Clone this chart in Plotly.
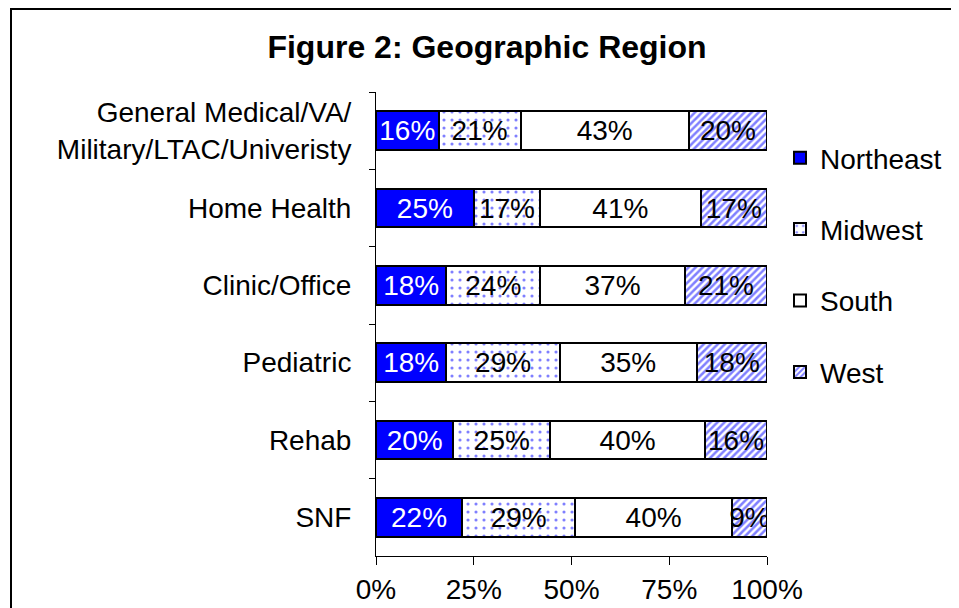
import plotly.graph_objects as go

categories = ['General Medical/VA/<br>Military/LTAC/Univeristy', 'Home Health', 'Clinic/Office',
              'Pediatric', 'Rehab', 'SNF']
northeast = [16, 25, 18, 18, 20, 22]
midwest = [21, 17, 24, 29, 25, 29]
south = [43, 41, 37, 35, 40, 40]
west = [20, 17, 21, 18, 16, 9]

FONT = 'Liberation Sans, Arial, sans-serif'

# page body has an 8px margin, so figure px = screenshot px - 8
L, T, PW, PH = 368, 84, 391, 464

series = [
    ('Northeast', northeast, dict(color='#0000ff'), 'white'),
    ('Midwest', midwest, dict(color='white', pattern=dict(shape='.', fgcolor='#0000ff', bgcolor='white',
                                                          size=8, solidity=0.12)), 'black'),
    ('South', south, dict(color='white'), 'black'),
    ('West', west, dict(color='white', pattern=dict(shape='/', fgcolor='#0000ff', bgcolor='white',
                                                    size=5, solidity=0.5)), 'black'),
]

fig = go.Figure()
for name, vals, marker, txtcol in series:
    marker = dict(marker, line=dict(color='black', width=2))
    fig.add_trace(go.Bar(
        y=categories, x=vals, name=name, orientation='h',
        marker=marker, legendgroup=name,
        text=[f'{v}%' for v in vals], textposition='inside', insidetextanchor='middle',
        constraintext='none', textangle=0,
        textfont=dict(family=FONT, size=28, color=txtcol),
        hoverinfo='name+x',
    ))

fig.update_layout(
    width=959, height=608,
    barmode='stack', barnorm='percent', bargap=0.5,
    paper_bgcolor='white', plot_bgcolor='white',
    margin=dict(l=L, r=959 - L - PW, t=T, b=608 - T - PH),
    font=dict(family=FONT, color='black'),
    title=dict(text='<b>Figure 2: Geographic Region</b>', x=(487 - 8) / 959, xanchor='center',
               y=1 - 39 / 608, yanchor='middle', font=dict(size=32, family=FONT)),
    legend=dict(x=(820 - 8 - 40 - L) / PW, xanchor='left', y=1 - (133 - 8 - T) / PH, yanchor='top',
                traceorder='grouped', tracegroupgap=32, font=dict(size=28, family=FONT),
                bgcolor='rgba(0,0,0,0)'),
    showlegend=True,
    xaxis=dict(range=[0, 100], tickvals=[0, 25, 50, 75, 100], ticktext=['0%', '25%', '50%', '75%', '100%'],
               showgrid=False, zeroline=False, showline=True, linecolor='black', linewidth=1,
               ticks='outside', ticklen=8, tickcolor='black', tickfont=dict(size=28), fixedrange=True),
    yaxis=dict(autorange='reversed', showgrid=False, showline=True, linecolor='black', linewidth=1,
               ticks='outside', tickson='boundaries', ticklen=6, tickcolor='black',
               tickfont=dict(size=28), ticklabelstandoff=18),
)

# chart frame
fig.add_shape(type='rect', xref='paper', yref='paper',
              x0=(11 - 8 - L) / PW, x1=(955 - 8 - L) / PW,
              y0=-(620 - 8 - T - PH) / PH, y1=1 + (T - 1) / PH,
              line=dict(color='black', width=2), layer='below')

fig.write_html('out.html')
